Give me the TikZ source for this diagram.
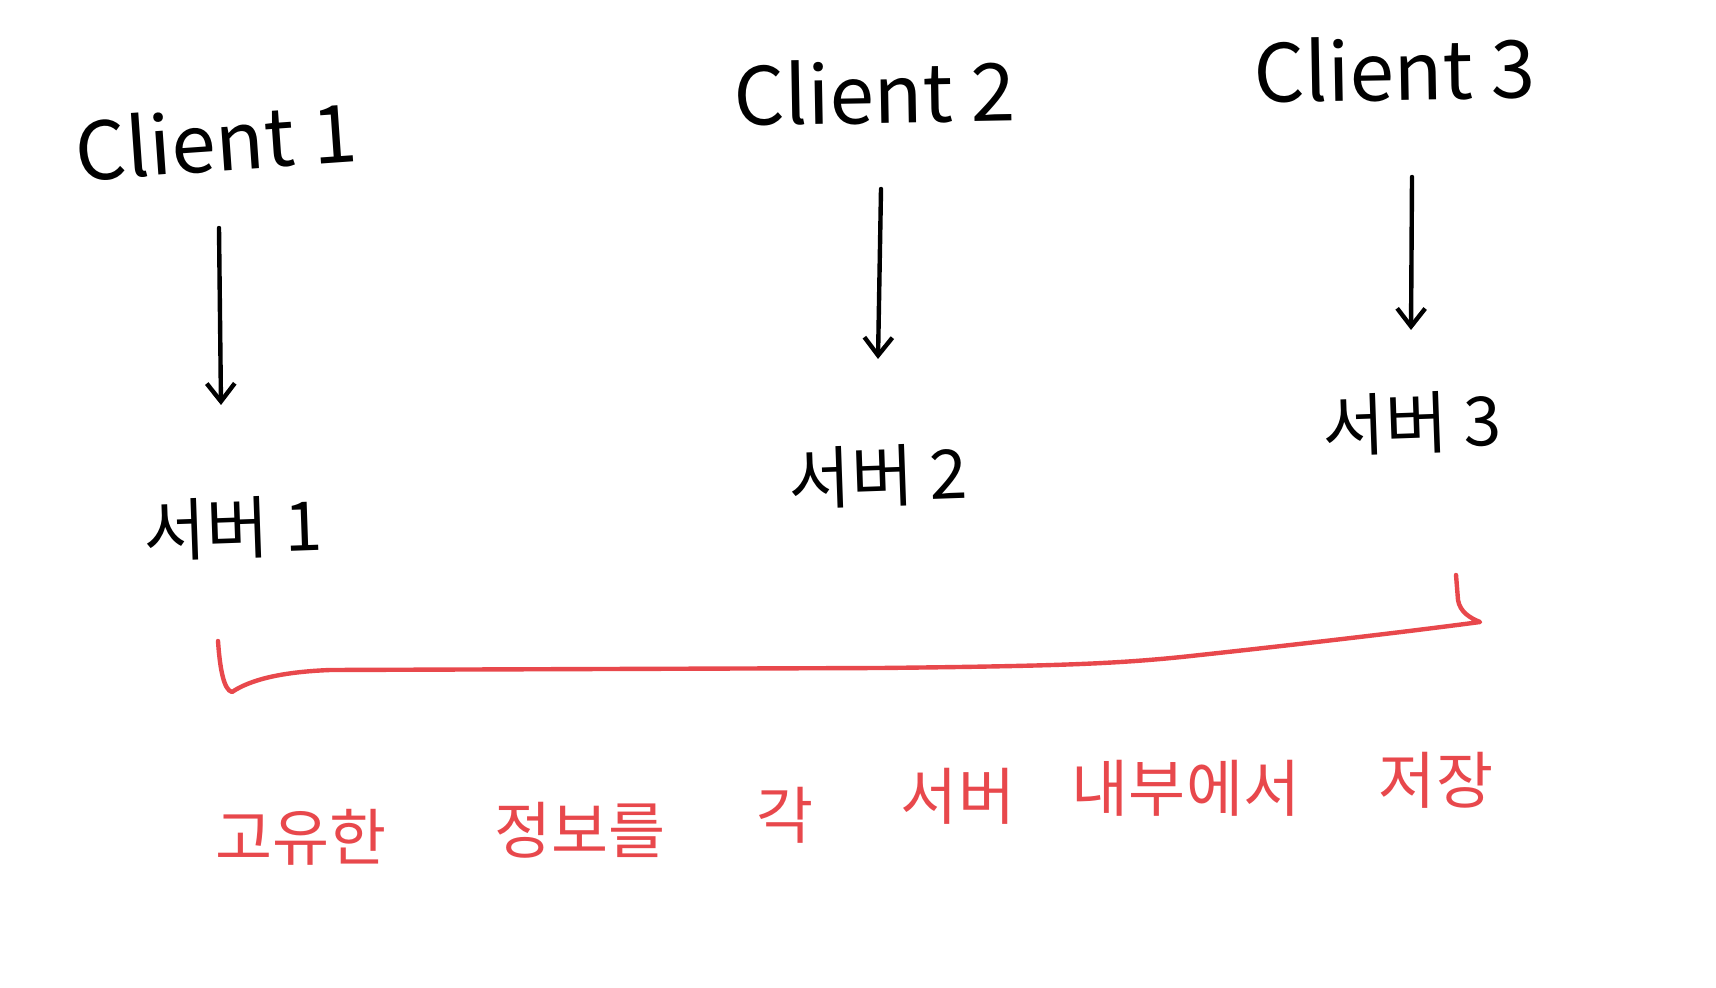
\documentclass[tikz,border=0pt]{standalone}
\usepackage{fontspec}
\newfontfamily\kr{Noto Sans CJK KR}
\usetikzlibrary{arrows.meta}
\definecolor{penred}{RGB}{232,72,76}
\tikzset{
  clientlbl/.style={font=\kr\fontsize{40}{48}\selectfont, text=black, inner sep=0pt},
  serverlbl/.style={font=\kr\fontsize{34}{40}\selectfont, text=black, inner sep=0pt},
  notelbl/.style={font=\kr\fontsize{31}{36}\selectfont, text=penred, inner sep=0pt},
  arr/.style={line width=2.2pt, line cap=round, -{Straight Barb[length=9pt,width=14pt,line width=2.2pt]}},
  brace/.style={line width=2.2pt, draw=penred, line cap=round, line join=round}
}
\begin{document}
\begin{tikzpicture}[x=0.5pt,y=-0.5pt]
\useasboundingbox[fill=white] (0,0) rectangle (1716,988);
% clients
\node[clientlbl, rotate=4] (c1) at (216,140) {Client 1};
\node[clientlbl, rotate=1] (c2) at (875,92) {Client 2};
\node[clientlbl, rotate=1] (c3) at (1395,69) {Client 3};
% servers
\node[serverlbl, rotate=2] (s1) at (233,528) {서버 1};
\node[serverlbl, rotate=2] (s2) at (878,476) {서버 2};
\node[serverlbl, rotate=2] (s3) at (1412,423) {서버 3};
% arrow ends
\coordinate (a1) at (219,228); \coordinate (b1) at (221,405);
\coordinate (a2) at (881,189); \coordinate (b2) at (878,359);
\coordinate (a3) at (1412,177); \coordinate (b3) at (1411,330);
\draw[arr] (a1) -- (b1);
\draw[arr] (a2) -- (b2);
\draw[arr] (a3) -- (b3);
% red bracket
\coordinate (bl) at (218,641);
\coordinate (br) at (1456,575);
\draw[brace] (bl) .. controls (220,670) and (224,690) .. (232,692)
  .. controls (250,680) and (280,672) .. (330,670)
  -- (880,668)
  .. controls (1060,666) and (1120,664) .. (1200,655)
  .. controls (1320,642) and (1420,630) .. (1480,622)
  .. controls (1470,618) and (1460,612) .. (1458,600)
  -- (br);
% red note
\node[notelbl] (w1) at (301,837) {고유한};
\node[notelbl] (w2) at (580,830) {정보를};
\node[notelbl] (w3) at (785,815) {각};
\node[notelbl] (w4) at (958,796) {서버};
\node[notelbl] (w5) at (1186,788) {내부에서};
\node[notelbl] (w6) at (1436,780) {저장};
\end{tikzpicture}
\end{document}
